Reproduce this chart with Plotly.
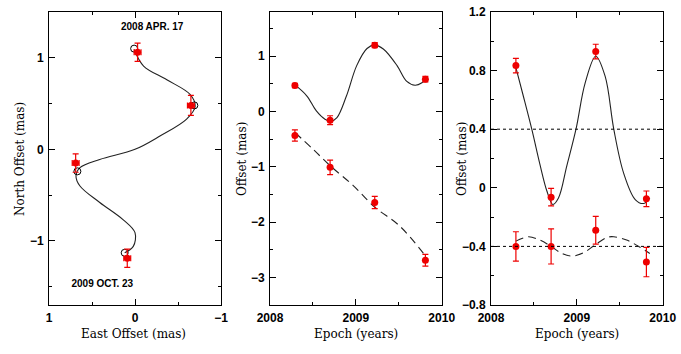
import plotly.graph_objects as go

# ---------------- Panel 1: sky positions ----------------
p1_east = [-0.03, -0.65, 0.69, 0.09]
p1_north = [1.06, 0.48, -0.15, -1.19]
p1_east_err = [0.04, 0.04, 0.04, 0.04]
p1_north_err = [0.10, 0.11, 0.10, 0.10]
p1_model_east = [0.01, -0.69, 0.67, 0.12]
p1_model_north = [1.10, 0.48, -0.24, -1.13]
p1_curve_east = [0.01, -0.10, -0.37, -0.64, -0.70, -0.60, -0.29, 0.0, 0.41, 0.64, 0.686,
                 0.64, 0.41, 0.136, 0.0, 0.02, 0.12]
p1_curve_north = [1.09, 0.91, 0.76, 0.60, 0.47, 0.33, 0.145, 0.0, -0.11, -0.20, -0.29,
                  -0.40, -0.58, -0.77, -0.91, -1.06, -1.13]
p1_labels = ["2008 APR. 17", "2009 OCT. 23"]
p1_label_east = [-0.2, 0.38]
p1_label_north = [1.33, -1.48]

# ---------------- Panel 2: offsets vs epoch ----------------
epochs = [2008.29, 2008.70, 2009.22, 2009.81]
p2_top = [0.47, -0.157, 1.20, 0.584]
p2_top_err = [0.04, 0.08, 0.045, 0.05]
p2_bot = [-0.434, -1.01, -1.645, -2.69]
p2_bot_err = [0.10, 0.13, 0.11, 0.105]
p2_solid_t = [2008.295, 2008.43, 2008.54, 2008.64, 2008.71, 2008.78, 2008.89, 2009.01,
              2009.13, 2009.22, 2009.32, 2009.48, 2009.59, 2009.69, 2009.77, 2009.81]
p2_solid_y = [0.476, 0.28, 0.01, -0.14, -0.175, -0.11, 0.28, 0.83,
              1.14, 1.20, 1.13, 0.83, 0.55, 0.476, 0.52, 0.58]
p2_dash_t = [2008.29, 2008.50, 2008.70, 2008.97, 2009.22, 2009.51, 2009.81]
p2_dash_y = [-0.38, -0.68, -0.98, -1.34, -1.73, -2.07, -2.61]

# ---------------- Panel 3: parallax signature ----------------
p3_top = [0.834, -0.064, 0.93, -0.075]
p3_top_err = [0.05, 0.06, 0.05, 0.053]
p3_bot = [-0.40, -0.40, -0.29, -0.507]
p3_bot_err = [0.10, 0.12, 0.095, 0.10]
p3_solid_t = [2008.29, 2008.377, 2008.475, 2008.57, 2008.65, 2008.72, 2008.786, 2008.883,
              2008.99, 2009.097, 2009.22, 2009.33, 2009.43, 2009.545, 2009.68, 2009.78, 2009.85]
p3_solid_y = [0.82, 0.625, 0.40, 0.16, -0.02, -0.114, -0.07, 0.15,
              0.40, 0.716, 0.898, 0.76, 0.40, 0.10, -0.08, -0.107, -0.07]
p3_dash_t = [2008.29, 2008.436, 2008.57, 2008.70, 2008.825, 2008.94, 2009.08, 2009.22,
             2009.35, 2009.43, 2009.58, 2009.72, 2009.85]
p3_dash_y = [-0.364, -0.334, -0.357, -0.40, -0.448, -0.466, -0.443, -0.386,
             -0.339, -0.334, -0.357, -0.40, -0.448]
p3_ref_levels = [0.4, -0.4]

RED = "#ee0000"
LINE = "#222222"
TICKFONT = dict(family="Liberation Sans", size=12, color="black", weight="bold")
TITLEFONT = dict(family="DejaVu Serif", size=12, color="black", weight="normal")

fig = go.Figure()


def data_trace(x, y, yerr, xa, ya, xerr=None):
    kw = dict(
        x=x, y=y, mode="markers", xaxis=xa, yaxis=ya, showlegend=False,
        marker=dict(color=RED, size=7),
        error_y=dict(type="data", array=yerr, color=RED, thickness=1.2, width=3),
    )
    if xerr is not None:
        kw["error_x"] = dict(type="data", array=xerr, color=RED, thickness=1.2, width=3)
    return go.Scatter(**kw)


# Panel 1
fig.add_trace(go.Scatter(x=p1_curve_east, y=p1_curve_north, mode="lines", xaxis="x", yaxis="y",
                         line=dict(color=LINE, width=1.1, shape="spline", smoothing=1.0),
                         showlegend=False))
fig.add_trace(go.Scatter(x=p1_model_east, y=p1_model_north, mode="markers", xaxis="x", yaxis="y",
                         marker=dict(symbol="circle-open", size=7, color="black", line=dict(width=1)),
                         showlegend=False))
fig.add_trace(data_trace(p1_east, p1_north, p1_north_err, "x", "y", p1_east_err))
fig.add_trace(go.Scatter(x=p1_label_east, y=p1_label_north, mode="text", text=p1_labels,
                         xaxis="x", yaxis="y", showlegend=False,
                         textfont=dict(family="Liberation Sans", size=10, color="black", weight="bold")))

# Panel 2
fig.add_trace(go.Scatter(x=p2_solid_t, y=p2_solid_y, mode="lines", xaxis="x2", yaxis="y2",
                         line=dict(color=LINE, width=1.1, shape="spline", smoothing=1.0),
                         showlegend=False))
fig.add_trace(go.Scatter(x=p2_dash_t, y=p2_dash_y, mode="lines", xaxis="x2", yaxis="y2",
                         line=dict(color=LINE, width=1.1, shape="spline", dash="8px,5px"),
                         showlegend=False))
fig.add_trace(data_trace(epochs, p2_top, p2_top_err, "x2", "y2"))
fig.add_trace(data_trace(epochs, p2_bot, p2_bot_err, "x2", "y2"))

# Panel 3
for lvl in p3_ref_levels:
    fig.add_shape(type="line", xref="x3 domain", yref="y3", x0=0, x1=1, y0=lvl, y1=lvl,
                  line=dict(color="black", width=1, dash="dot"))
fig.add_trace(go.Scatter(x=p3_solid_t, y=p3_solid_y, mode="lines", xaxis="x3", yaxis="y3",
                         line=dict(color=LINE, width=1.1, shape="spline", smoothing=1.0),
                         showlegend=False))
fig.add_trace(go.Scatter(x=p3_dash_t, y=p3_dash_y, mode="lines", xaxis="x3", yaxis="y3",
                         line=dict(color=LINE, width=1.1, shape="spline", dash="8px,5px"),
                         showlegend=False))
fig.add_trace(data_trace(epochs, p3_top, p3_top_err, "x3", "y3"))
fig.add_trace(data_trace(epochs, p3_bot, p3_bot_err, "x3", "y3"))

W, H = 681, 354
ydom = [1 - 305 / H, 1 - 12 / H]


def axis(domain, rng, dtick, minor_dtick, anchor, tick0=0):
    return dict(
        domain=domain, range=rng, anchor=anchor, showgrid=False, zeroline=False,
        showline=True, linecolor="black", linewidth=1, mirror="allticks",
        ticks="inside", ticklen=6, tickwidth=1, tickcolor="black",
        tick0=tick0, dtick=dtick, tickfont=TICKFONT, automargin=False,
        ticklabelstandoff=2,
        minor=dict(ticks="inside", ticklen=3, tickwidth=1, tickcolor="black",
                   dtick=minor_dtick, tick0=tick0, showgrid=False),
    )


fig.update_layout(
    width=W, height=H, margin=dict(l=0, r=0, t=0, b=0),
    plot_bgcolor="white", paper_bgcolor="white",
    xaxis=axis([49 / W, 221 / W], [1, -1], 1, 0.5, "y"),
    yaxis=axis(ydom, [-1.7, 1.5], 1, 0.5, "x"),
    xaxis2=axis([270 / W, 441.7 / W], [2008, 2010], 1, 0.5, "y2"),
    yaxis2=axis(ydom, [-3.5, 1.8], 1, 0.5, "x2"),
    xaxis3=axis([491 / W, 662.7 / W], [2008, 2010], 1, 0.5, "y3"),
    yaxis3=axis(ydom, [-0.8, 1.2], 0.4, 0.2, "x3"),
)
fig.update_layout(xaxis3=dict(tickformat="d"), xaxis2=dict(tickformat="d"))

titles = [
    ("East Offset (mas)", 133, 334, 0),
    ("Epoch (years)", 356, 334, 0),
    ("Epoch (years)", 577, 334, 0),
    ("North Offset (mas)", 20, 159, -90),
    ("Offset (mas)", 242, 159, -90),
    ("Offset (mas)", 462, 159, -90),
]
for text, px, py, ang in titles:
    fig.add_annotation(text=text, x=px / W, y=1 - py / H, xref="paper", yref="paper",
                       showarrow=False, textangle=ang, font=TITLEFONT,
                       xanchor="center", yanchor="middle")

fig.write_html("out.html")
